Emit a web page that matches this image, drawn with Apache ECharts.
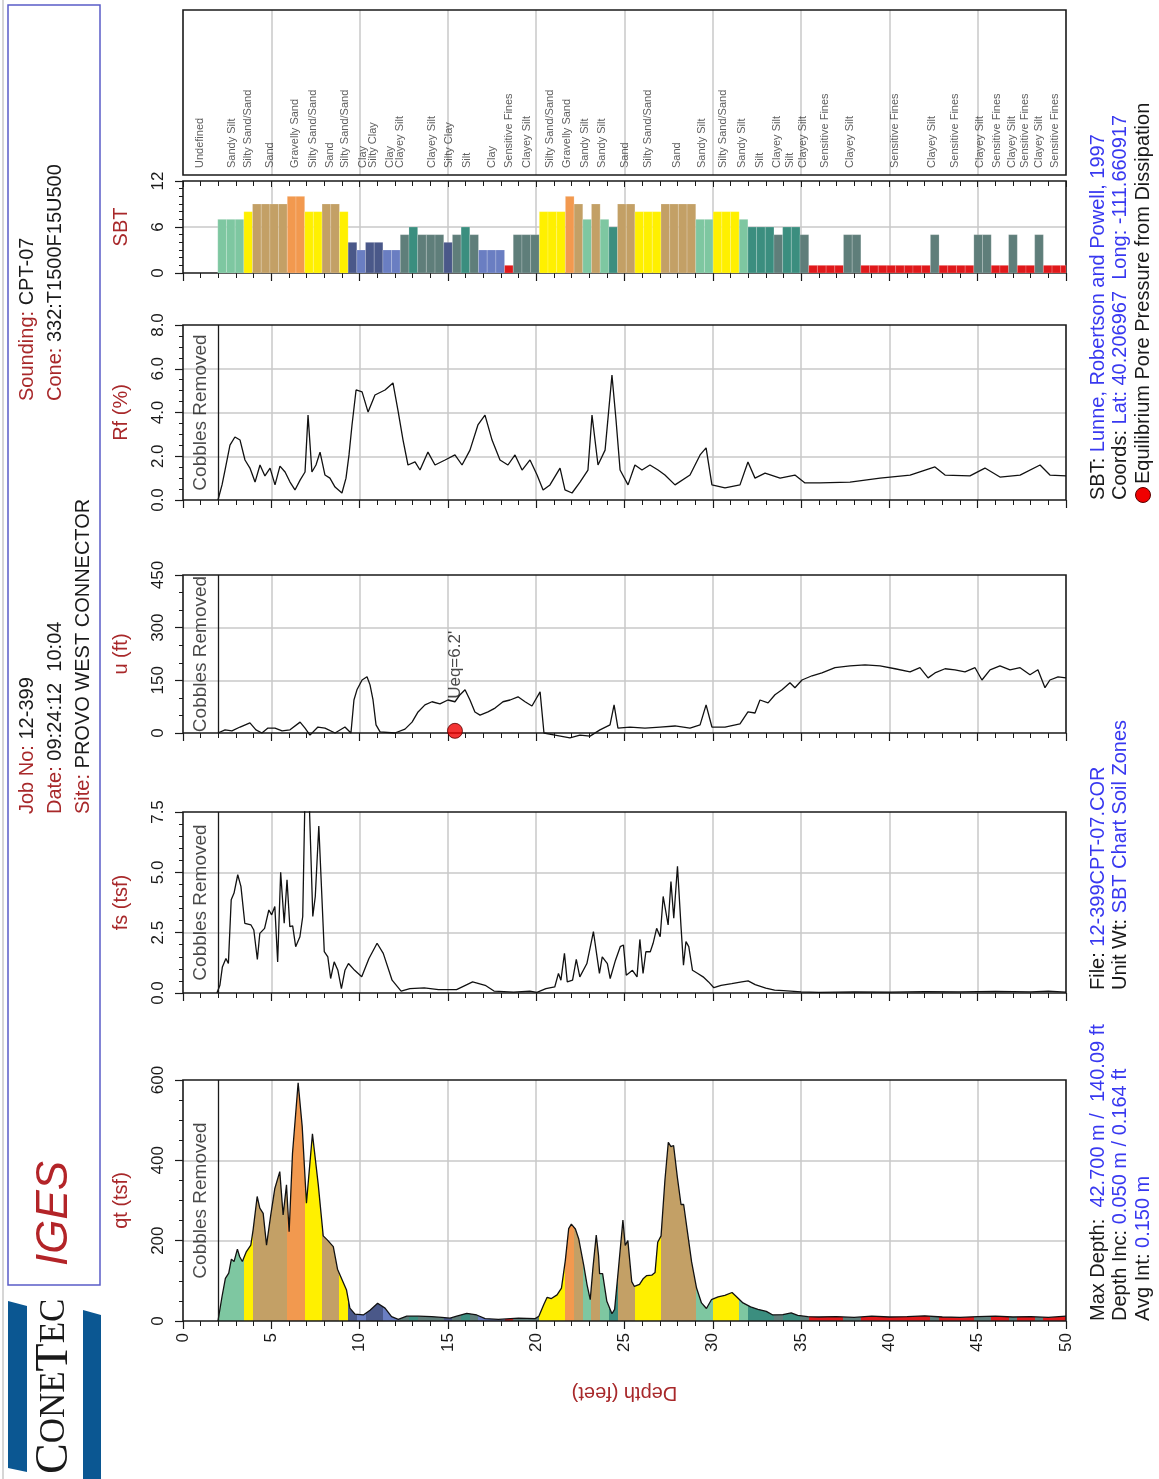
<!DOCTYPE html>
<html><head><meta charset="utf-8">
<script src="https://cdn.jsdelivr.net/npm/echarts@6/dist/echarts.min.js"></script>
<style>html,body{margin:0;padding:0;background:#fff}#c{width:1159px;height:1479px}</style>
</head><body><div id="c"></div><script>
// ---------------- DATA ----------------
const depthTicks = [0,5,10,15,20,25,30,35,40,45,50];
// SBT zones, one per 0.15 m (0.4921 ft) averaging interval, starting at 0.60 m (1.969 ft)
const sbtStartFt = 1.969;
const sbtStepFt = 0.4921;
const sbtZones = [7,7,7,8,9,9,9,9,10,10,8,8,9,9,8,4,3,4,4,3,3,5,6,5,5,5,4,5,6,5,3,3,3,1,5,5,5,8,8,8,10,9,7,9,7,6,9,9,8,8,8,9,9,9,9,7,7,8,8,8,7,6,6,6,5,6,6,5,1,1,1,1,5,5,1,1,1,1,1,1,1,1,5,1,1,1,1,5,5,1,1,5,1,1,5,1,1,1];
const sbtLabelDepth = [0.96,2.77,3.68,4.93,6.34,7.36,8.32,9.17,10.19,10.76,11.72,12.29,14.10,15.06,16.08,17.50,18.46,19.48,20.78,21.74,22.76,23.73,25.03,26.33,27.97,29.39,30.58,31.65,32.67,33.64,34.37,35.11,36.35,37.77,40.32,42.41,43.71,45.13,46.09,46.94,47.68,48.47,49.38];
const sbtLabelText = ['Undefined','Sandy Silt','Silty Sand/Sand','Sand','Gravelly Sand','Silty Sand/Sand','Sand','Silty Sand/Sand','Clay','Silty Clay','Clay','Clayey Silt','Clayey Silt','Silty Clay','Silt','Clay','Sensitive Fines','Clayey Silt','Silty Sand/Sand','Gravelly Sand','Sandy Silt','Sandy Silt','Sand','Silty Sand/Sand','Sand','Sandy Silt','Silty Sand/Sand','Sandy Silt','Silt','Clayey Silt','Silt','Clayey Silt','Sensitive Fines','Clayey Silt','Sensitive Fines','Clayey Silt','Sensitive Fines','Clayey Silt','Sensitive Fines','Clayey Silt','Sensitive Fines','Clayey Silt','Sensitive Fines'];

const qtDepth = [1.98,2.21,2.40,2.59,2.74,2.89,3.08,3.21,3.36,3.59,3.84,3.97,4.20,4.35,4.54,4.73,4.97,5.20,5.48,5.67,5.86,6.01,6.20,6.52,6.75,6.99,7.33,7.66,7.94,8.17,8.51,8.75,9.26,9.45,9.74,10.21,10.59,11.02,11.44,11.81,12.19,12.67,13.33,14.08,14.65,15.12,15.50,16.07,16.63,17.11,17.86,19.00,19.94,20.15,20.43,20.62,20.86,21.18,21.43,21.65,21.84,21.99,22.22,22.41,22.69,22.88,23.06,23.21,23.40,23.53,23.59,23.76,24.00,24.29,24.44,24.66,24.91,25.04,25.19,25.41,25.56,25.85,26.07,26.26,26.54,26.73,26.88,27.07,27.29,27.48,27.63,27.78,27.99,28.20,28.35,28.57,28.80,29.08,29.36,29.64,29.92,30.30,30.68,31.09,31.33,31.71,32.14,32.56,33.03,33.40,33.97,34.44,34.81,35.38,36,37,38,39,40,41,42,43,44,45,46,47,48,49,50];
const qtValue = [0,61,106,119,154,148,179,160,148,173,189,227,310,281,268,189,264,330,372,264,339,222,417,593,484,293,466,339,212,202,185,129,77,32,17,15,27,44,32,11,4,12,12,11,9,7,12,19,15,6,4,7,6,12,41,59,56,65,82,151,230,241,229,204,139,90,53,131,214,163,118,118,49,18,29,131,251,188,200,98,86,91,106,113,114,121,196,212,351,445,434,437,359,290,290,220,147,82,45,31,53,60,64,71,61,45,35,29,24,15,16,20,14,11,10,11,9,12,10,11,13,10,9,11,12,10,11,9,12];

const fsDepth = [1.92,2.09,2.23,2.43,2.57,2.73,2.89,3.10,3.28,3.50,3.85,4.01,4.21,4.35,4.62,4.86,5.02,5.20,5.36,5.53,5.73,5.89,6.05,6.21,6.38,6.62,6.78,6.90,7.15,7.35,7.49,7.69,7.83,8.00,8.20,8.36,8.56,8.77,8.97,9.17,9.37,9.72,10.12,10.53,10.99,11.34,11.84,12.35,12.85,13.66,14.47,15.49,16.40,17.11,17.61,18.72,19.64,20.04,20.55,21.05,21.26,21.40,21.60,21.76,22.06,22.27,22.47,22.87,23.24,23.58,23.74,24.03,24.19,24.49,24.76,24.94,25.10,25.45,25.71,25.87,26.05,26.21,26.46,26.62,26.82,27.02,27.19,27.47,27.63,27.79,28.00,28.20,28.34,28.48,28.64,28.85,29.15,29.45,29.76,30.06,30.47,31.07,31.64,32.0,32.4,33.0,33.5,34.0,35.0,36.0,38,40,42,44,46,48,49,50];
const fsValue = [0,0.32,1.08,1.43,1.22,3.86,4.14,4.90,4.42,2.89,2.82,2.61,1.39,2.47,2.68,3.44,3.24,3.58,1.29,5.00,2.89,4.69,2.75,2.78,1.92,2.33,3.17,7.9,7.9,3.17,4.0,6.92,4.56,1.71,1.5,0.6,1.29,0.94,0.18,0.94,1.22,0.94,0.67,1.43,2.06,1.64,0.53,0.08,0.18,0.21,0.14,0.14,0.46,0.32,0.08,0.04,0.08,0.03,0.18,0.25,0.81,0.53,1.64,0.46,0.53,1.39,0.67,1.22,2.54,0.81,1.5,1.22,0.6,1.36,1.92,1.99,0.74,0.94,0.67,2.22,0.81,1.71,1.71,2.06,2.68,2.33,4.0,2.82,4.62,3.10,5.25,2.75,1.15,2.13,1.92,0.94,0.81,0.67,0.46,0.22,0.32,0.39,0.46,0.5,0.35,0.2,0.12,0.1,0.05,0.03,0.05,0.04,0.06,0.05,0.07,0.05,0.08,0.04];

const uDepth = [1.98,2.38,2.77,3.23,3.79,4.13,4.47,4.81,5.21,5.61,6.06,6.63,6.91,7.19,7.64,8.04,8.61,9.17,9.51,9.68,9.85,10.14,10.42,10.59,10.76,10.93,11.16,12.0,12.57,12.97,13.31,13.70,14.10,14.55,15.0,15.40,15.69,15.97,16.25,16.53,16.82,17.27,17.67,18.12,18.52,18.97,19.37,19.76,20.22,20.44,21.06,21.91,22.48,23.05,23.61,24.18,24.41,24.63,25.31,26.16,27.01,27.86,28.71,29.28,29.62,29.95,30.69,31.54,31.99,32.39,32.67,33.13,33.52,33.92,34.37,34.65,35.05,35.62,36.18,36.92,37.77,38.62,39.47,40.32,41.17,41.73,42.19,42.58,43.15,43.71,44.28,44.85,45.24,45.70,46.26,46.83,47.40,47.96,48.41,48.81,49.09,49.55,50.0];
const uValue = [0,9,6,17,29,9,0,14,14,6,9,31,14,-6,17,14,0,17,0,94,123,151,160,137,94,23,3,0,11,31,60,80,89,83,94,89,109,123,94,60,51,60,71,89,94,103,89,77,117,0,-6,-14,-6,-9,9,23,80,14,17,14,17,20,14,23,80,17,17,26,60,57,94,86,109,123,143,129,151,163,171,186,191,194,191,183,174,186,157,171,183,180,174,186,151,180,191,180,186,166,180,129,151,160,157];
const ueqDepth = 15.4;
const ueqValue = 6.2;

const rfDepth = [1.98,2.21,2.38,2.66,2.94,3.23,3.51,3.79,4.08,4.36,4.64,4.93,5.21,5.49,5.78,6.06,6.34,6.63,6.91,7.08,7.30,7.53,7.76,8.04,8.32,8.61,9.0,9.23,9.40,9.57,9.80,10.14,10.48,10.87,11.44,11.89,12.17,12.46,12.74,13.14,13.42,13.87,14.27,14.84,15.40,15.80,16.25,16.70,17.10,17.50,17.95,18.40,18.80,19.20,19.65,20.05,20.39,20.78,21.35,21.63,22.03,22.48,22.93,23.16,23.50,23.90,24.29,24.52,24.75,25.20,25.59,25.99,26.44,26.90,27.29,27.86,28.71,29.28,29.62,29.95,30.69,31.54,31.99,32.39,32.96,33.81,34.65,35.22,36.07,37.77,39.47,41.17,42.58,43.15,44.56,45.41,46.26,47.40,48.53,49.09,50.0];
const rfValue = [0,0.69,1.37,2.51,2.88,2.74,1.83,1.46,0.82,1.60,1.10,1.46,0.69,1.55,1.28,0.82,0.46,0.91,1.28,3.88,1.28,1.60,2.19,1.14,1.0,0.59,0.32,1.0,2.06,3.43,5.03,4.94,4.02,4.80,5.03,5.35,4.11,2.74,1.60,1.74,1.37,2.19,1.60,1.83,2.06,1.60,2.28,3.43,3.88,2.74,1.83,1.60,2.06,1.37,1.83,1.14,0.46,0.69,1.46,0.46,0.32,0.82,1.37,3.88,1.60,2.28,5.71,3.66,1.37,0.69,1.60,1.37,1.60,1.37,1.14,0.69,1.14,2.06,2.38,0.69,0.55,0.69,1.74,1.0,1.23,1.0,1.14,0.78,0.78,0.82,1.0,1.14,1.51,1.14,1.10,1.46,1.05,1.14,1.60,1.14,1.10];

const cobblesDepth = 2.0;

// ---------------- STYLE ----------------
const FONT = 'Liberation Sans, Arial, sans-serif';
const RED = '#a8282a';
const BLUE = '#3838f0';
const zoneColor = {1:'#e0191b',2:'#a0522d',3:'#6a7ec2',4:'#4a5889',5:'#5f7e7a',6:'#3b8e7f',7:'#7ec7a1',8:'#fff000',9:'#c3a066',10:'#f2994f',11:'#888',12:'#bbb'};
const panels = [
  {top:10, h:165},   // labels
  {top:181, h:92},   // SBT
  {top:325, h:175},  // Rf
  {top:575, h:158},  // u
  {top:812, h:181},  // fs
  {top:1080, h:241}  // qt
];
const pair = (a,b)=>a.map((d,i)=>[d,b[i]]);

const grids = panels.map(p=>({left:183, width:883, top:p.top, height:p.h, show:true, borderColor:'#1a1a1a', borderWidth:1.6, backgroundColor:'transparent', z:2}));

const splitStyle = {show:true, showMinLine:false, showMaxLine:false, lineStyle:{color:'#c8c8c8', width:1.5}};
const xAxes = panels.map((p,i)=>({
  gridIndex:i, type:'value', min:0, max:50, interval:5,
  axisLine:{show:false},
  axisTick:{show:i>0, length:8, lineStyle:{color:'#1a1a1a', width:1.2}},
  minorTick:{show:i>0, splitNumber:5, length:5, lineStyle:{color:'#1a1a1a', width:1}},
  splitLine:splitStyle,
  axisLabel:{show:i===5, rotate:90, fontSize:17, color:'#1a1a1a', margin:12, fontFamily:FONT},
  name: i===5 ? 'Depth (feet)' : '', nameLocation:'middle', nameGap:62, nameRotate:180,
  nameTextStyle:{color:RED, fontSize:20, fontFamily:FONT}
}));
xAxes.push({gridIndex:1, type:'value', min:0, max:50, interval:5, position:'top',
  axisLine:{show:false}, axisLabel:{show:false}, splitLine:{show:false},
  axisTick:{show:true, inside:true, length:6, lineStyle:{color:'#1a1a1a'}},
  minorTick:{show:true, splitNumber:5, length:5, lineStyle:{color:'#1a1a1a'}}});

function yAx(i, max, interval, name, minorSplit, dec){
  return {gridIndex:i, type:'value', min:0, max:max, interval:interval,
    name:name, nameLocation:'middle', nameRotate:90, nameGap:52,
    nameTextStyle:{color:RED, fontSize:20, fontFamily:FONT},
    axisLine:{show:false},
    axisTick:{show:true, length:8, lineStyle:{color:'#1a1a1a', width:1.2}},
    minorTick:{show:true, splitNumber:minorSplit, length:4, lineStyle:{color:'#1a1a1a'}},
    splitLine:splitStyle,
    axisLabel:{rotate:90, fontSize:17, color:'#1a1a1a', margin:16, fontFamily:FONT,
      formatter:v=>dec?v.toFixed(dec):String(v)}};
}
const yAxes = [
  {gridIndex:0, type:'value', min:0, max:1, show:false},
  yAx(1, 12, 6, 'SBT', 6, 0),
  yAx(2, 8, 2, 'Rf (%)', 4, 1),
  yAx(3, 450, 150, 'u (ft)', 3, 0),
  yAx(4, 7.5, 2.5, 'fs (tsf)', 5, 1),
  yAx(5, 600, 200, 'qt (tsf)', 4, 0)
];

// visual pieces colouring qt fill by SBT zone
const pieces = [];
let runStart = 0;
for (let k=1;k<=sbtZones.length;k++){
  if (k===sbtZones.length || sbtZones[k]!==sbtZones[runStart]){
    pieces.push({gte: runStart===0 ? -10 : sbtStartFt+runStart*sbtStepFt,
                 lt: k===sbtZones.length ? 100 : sbtStartFt+k*sbtStepFt,
                 color: zoneColor[sbtZones[runStart]]});
    runStart = k;
  }
}

const cobblesLine = {silent:true, symbol:['none','none'], label:{show:false},
  lineStyle:{color:'#1a1a1a', type:'solid', width:1.3}, data:[{xAxis:cobblesDepth}]};
function cobblesLabel(i, mid){
  return {type:'scatter', xAxisIndex:i, yAxisIndex:i, symbolSize:0, silent:true, data:[[cobblesDepth/2, mid]],
    label:{show:true, formatter:'Cobbles Removed', position:'inside', rotate:90, align:'center', verticalAlign:'middle',
      fontSize:19, color:'#1a1a1a', fontFamily:FONT}};
}
function curve(i, d, v, extra){
  return Object.assign({type:'line', xAxisIndex:i, yAxisIndex:i, data:pair(d,v), symbol:'none',
    lineStyle:{color:'#111', width:1.3}, z:3, markLine:cobblesLine, animation:false}, extra||{});
}

const series = [
  {type:'custom', xAxisIndex:1, yAxisIndex:1, animation:false,
   data: sbtZones.map((z,k)=>[sbtStartFt+k*sbtStepFt, z]),
   renderItem:function(params, api){
     const d0 = api.value(0), z = api.value(1);
     const p0 = api.coord([d0, z]), p1 = api.coord([d0+sbtStepFt, 0]);
     const cs = params.coordSys;
     const x1 = Math.min(p1[0], cs.x+cs.width);
     return {type:'rect', shape:{x:p0[0], y:p0[1], width:x1-p0[0], height:p1[1]-p0[1]},
       style:{fill:zoneColor[z], stroke:'rgba(255,255,255,0.3)', lineWidth:0.6}};
   }},
  {type:'scatter', xAxisIndex:0, yAxisIndex:0, symbolSize:0, silent:true, animation:false,
   data: sbtLabelDepth.map(d=>[d,0]),
   label:{show:true, position:'top', distance:7, rotate:90, align:'left', verticalAlign:'middle',
     fontSize:11, color:'#333', fontFamily:FONT, formatter:p=>sbtLabelText[p.dataIndex]}},
  curve(2, rfDepth, rfValue),
  cobblesLabel(2, 4),
  curve(3, uDepth, uValue, {clip:false}),
  cobblesLabel(3, 225),
  {type:'scatter', xAxisIndex:3, yAxisIndex:3, symbol:'circle', symbolSize:15, z:5, animation:false,
   itemStyle:{color:'#f00000', borderColor:'#5a0000', borderWidth:1},
   data:[[ueqDepth, ueqValue]],
   label:{show:true, formatter:"Ueq=" + ueqValue + "'", position:'top', distance:24, rotate:90, align:'left', verticalAlign:'middle',
     fontSize:17, color:'#1a1a1a', fontFamily:FONT}},
  curve(4, fsDepth, fsValue),
  cobblesLabel(4, 3.75),
  {type:'line', xAxisIndex:5, yAxisIndex:5, data:pair(qtDepth, qtValue), symbol:'none', silent:true,
   lineStyle:{width:0}, areaStyle:{opacity:1}, z:1, animation:false},
  curve(5, qtDepth, qtValue),
  cobblesLabel(5, 300)
];

// ---------------- GRAPHICS (header / logos / notes) ----------------
function vtext(x, y, rich, parts, extra){
  return Object.assign({type:'text', x:x, y:y, rotation:Math.PI/2,
    style:{text:parts, align:'left', verticalAlign:'middle', rich:rich, fontFamily:FONT}}, extra||{});
}
const hdrRich = {r:{fill:RED, fontSize:20, fontFamily:FONT}, k:{fill:'#1a1a1a', fontSize:20, fontFamily:FONT}};
const noteRich = {k:{fill:'#1a1a1a', fontSize:20, fontFamily:FONT}, b:{fill:BLUE, fontSize:20, fontFamily:FONT}};
const graphics = [
  {type:'line', shape:{x1:3, y1:0, x2:3, y2:1479}, style:{stroke:'#c8c8c8', lineWidth:1.5}},
  {type:'rect', shape:{x:8, y:5, width:92, height:1280}, style:{fill:'none', stroke:'#5a5cc8', lineWidth:1.5}},
  vtext(27, 401, hdrRich, '{r|Sounding: }{k|CPT-07}'),
  vtext(55, 401, hdrRich, '{r|Cone: }{k|332:T1500F15U500}'),
  vtext(27, 814, hdrRich, '{r|Job No: }{k|12-399}'),
  vtext(55, 814, hdrRich, '{r|Date: }{k|09:24:12  10:04}'),
  vtext(83, 814, hdrRich, '{r|Site: }{k|PROVO WEST CONNECTOR}'),
  vtext(55, 1266, {g:{fill:'#b32428', fontSize:44, fontStyle:'italic', fontFamily:FONT}}, '{g|IGES}'),
  {type:'polygon', shape:{points:[[8,1301],[27,1306],[27,1472],[8,1468]]}, style:{fill:'#0b5792'}},
  {type:'polygon', shape:{points:[[83,1310],[101,1315],[101,1479],[83,1479]]}, style:{fill:'#0b5792'}},
  vtext(55, 1474, {a:{fill:'#1a1a1a', fontSize:46, fontFamily:'Liberation Serif, serif'}, b:{fill:'#1a1a1a', fontSize:35, fontFamily:'Liberation Serif, serif'}}, '{a|C}{b|ONE}{a|T}{b|EC}'),
  vtext(1098, 500, noteRich, '{k|SBT: }{b|Lunne, Robertson and Powell, 1997}'),
  vtext(1120, 500, noteRich, '{k|Coords: }{b|Lat: 40.206967  Long: -111.660917}'),
  {type:'circle', shape:{cx:1143, cy:495, r:7.5}, style:{fill:'#f00000', stroke:'#5a0000', lineWidth:1}},
  vtext(1143, 484, noteRich, '{k|Equilibrium Pore Pressure from Dissipation}'),
  vtext(1098, 990, noteRich, '{k|File: }{b|12-399CPT-07.COR}'),
  vtext(1120, 990, noteRich, '{k|Unit Wt: }{b|SBT Chart Soil Zones}'),
  vtext(1098, 1321, noteRich, '{k|Max Depth:  }{b|42.700 m /  140.09 ft}'),
  vtext(1120, 1321, noteRich, '{k|Depth Inc: }{b|0.050 m / 0.164 ft}'),
  vtext(1143, 1321, noteRich, '{k|Avg Int: }{b|0.150 m}')
];

const chart = echarts.init(document.getElementById('c'), null, {renderer:'canvas'});
chart.setOption({
  backgroundColor:'#fff',
  animation:false,
  textStyle:{fontFamily:FONT},
  grid:grids, xAxis:xAxes, yAxis:yAxes,
  visualMap:[{type:'piecewise', show:false, dimension:0, seriesIndex:9, pieces:pieces, outOfRange:{color:'#999'}}],
  series:series,
  graphic:graphics
});
</script></body></html>
